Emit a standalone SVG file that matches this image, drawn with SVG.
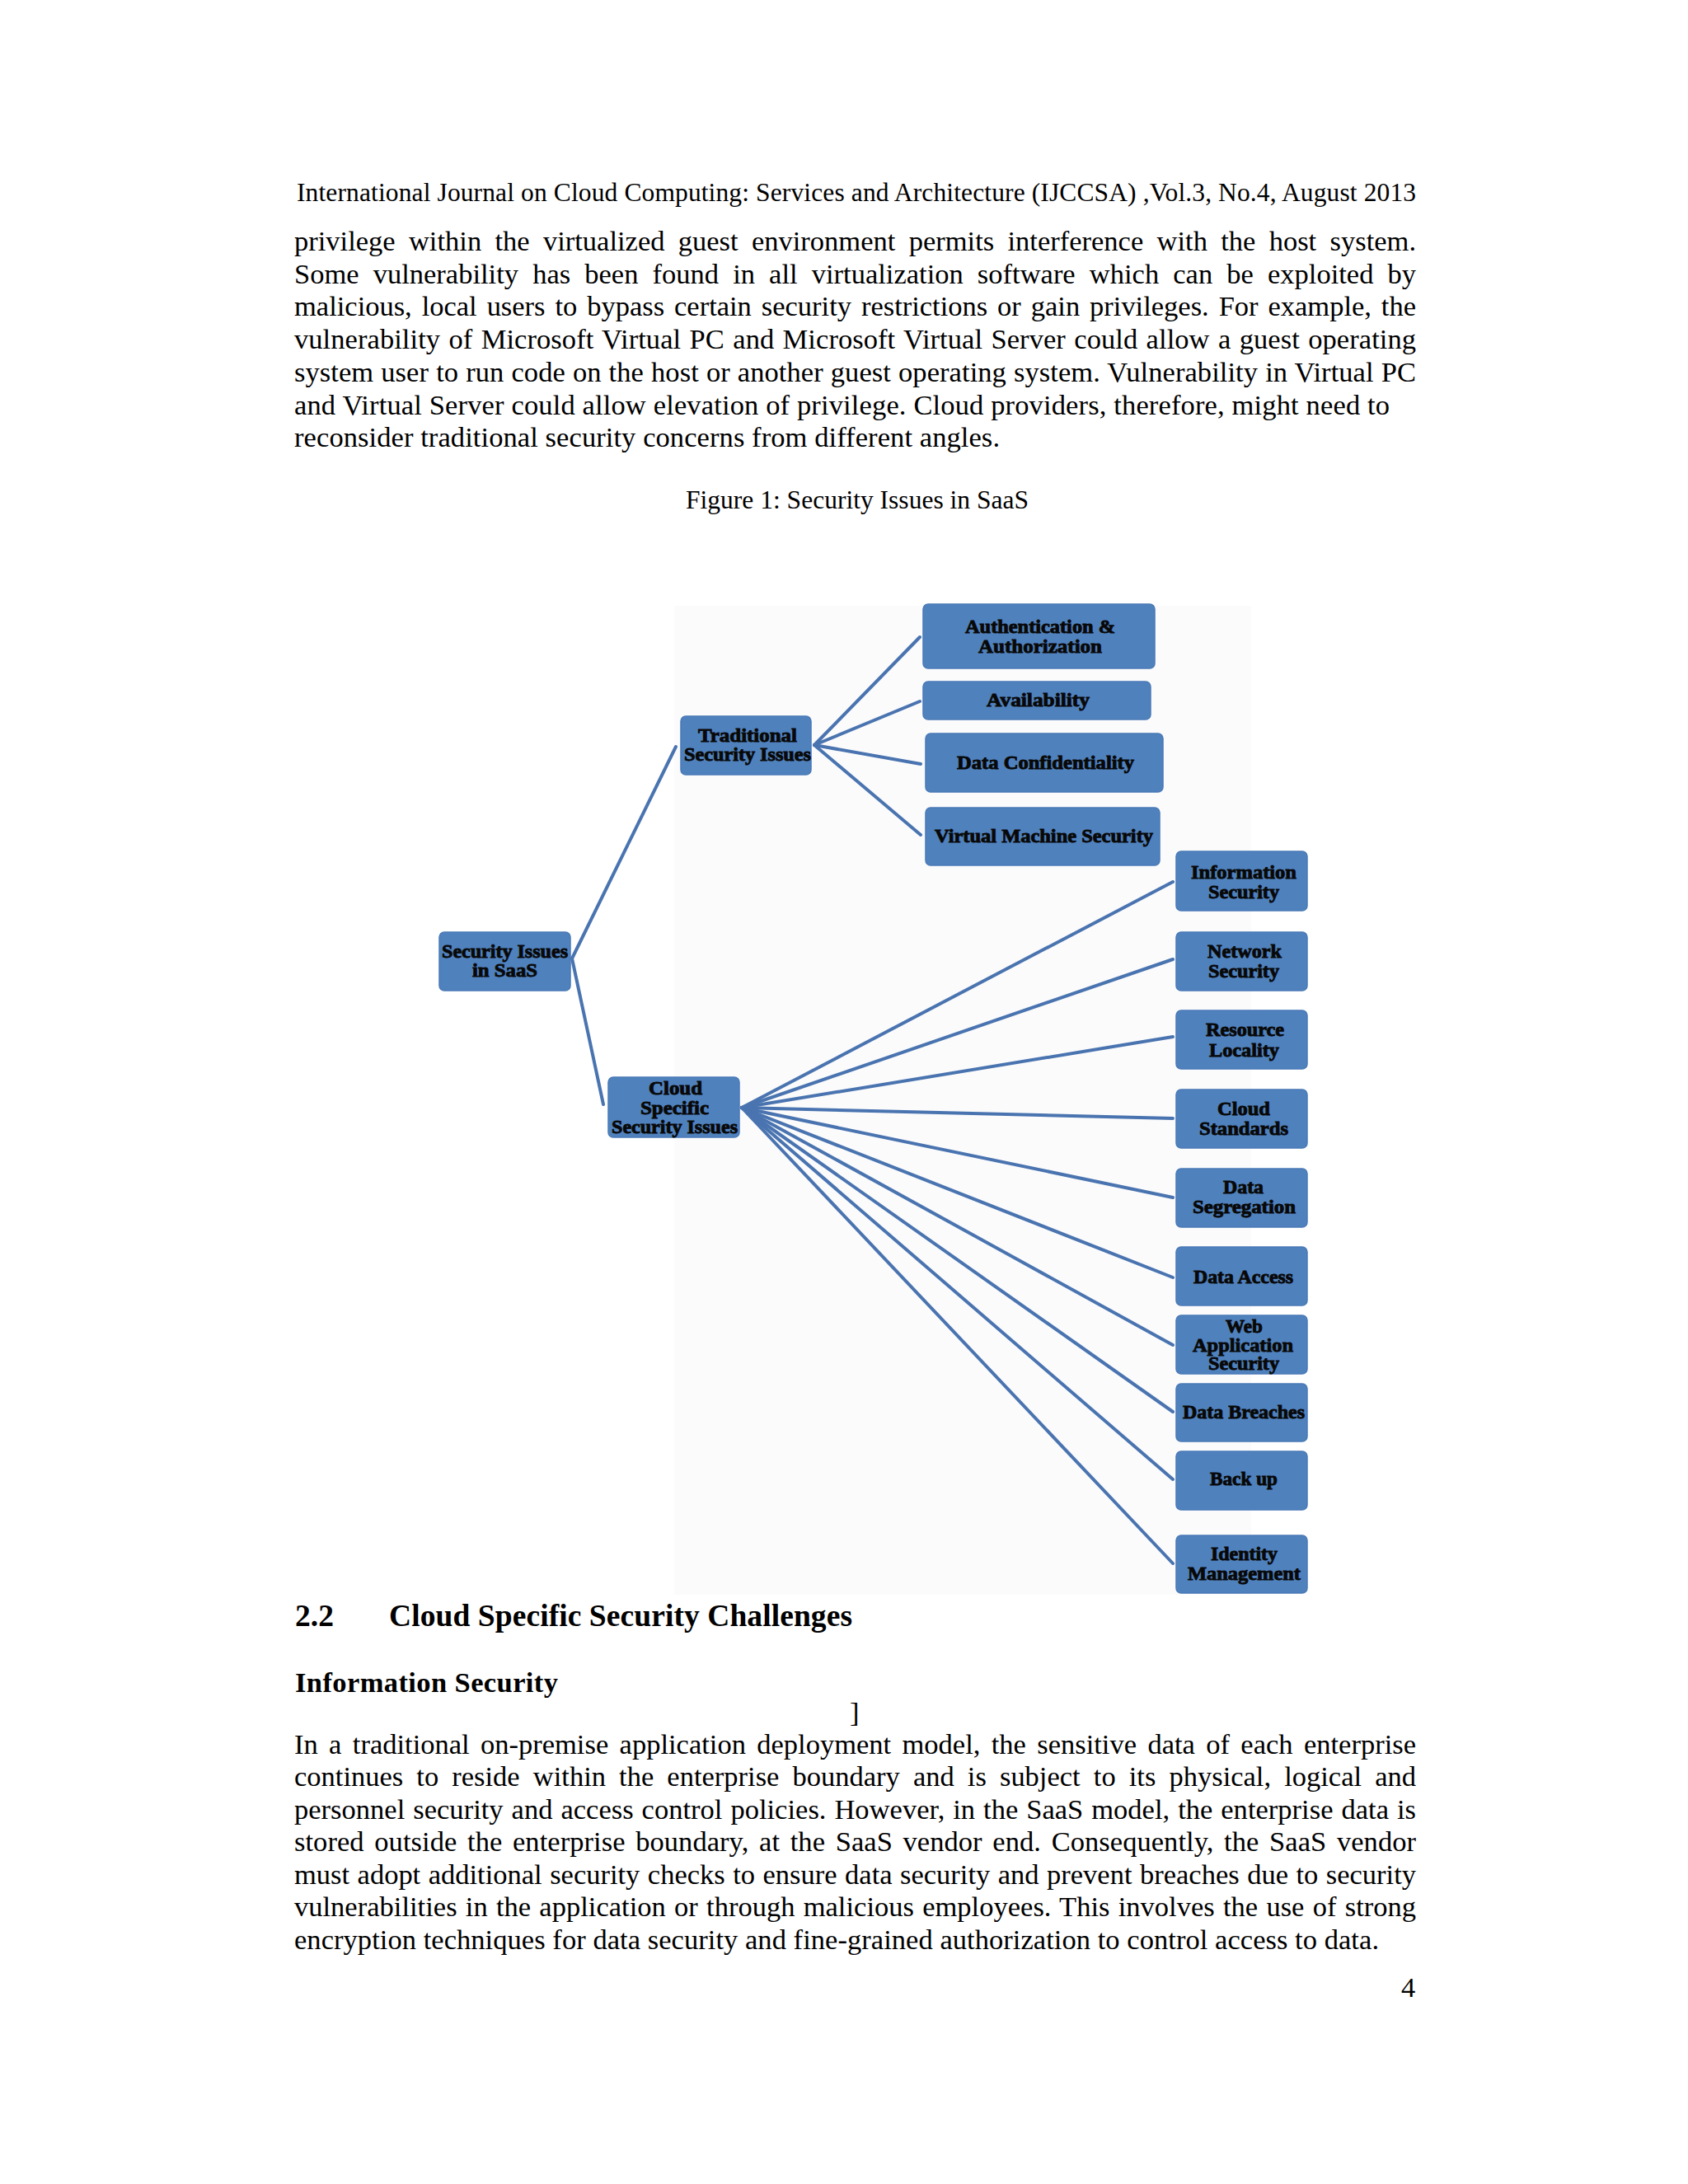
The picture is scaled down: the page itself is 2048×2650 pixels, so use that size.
<svg xmlns="http://www.w3.org/2000/svg" width="2048" height="2650" viewBox="0 0 2048 2650">
<style>
.pg{font-family:"Liberation Serif","Times New Roman",serif;fill:#000}
.hd{font-size:31.5px}
.bd{font-size:34.5px}
.cap{font-size:31.5px}
.h2{font-size:37.5px;font-weight:bold}
.h3{font-size:34.5px;font-weight:bold}
.box{fill:#4f81bd;stroke:#4a7ab6;stroke-width:1.5}
.lbl{font-family:"Liberation Serif","Times New Roman",serif;font-size:24px;font-weight:bold;fill:#080808;stroke:#080808;stroke-width:0.9}
.con{stroke:#4a74b0;stroke-width:4;fill:none;stroke-linecap:round}
</style>
<rect width="2048" height="2650" fill="#ffffff"/>
<g id="page-text" class="pg">
<text class="hd" x="360" y="244" textLength="1358" lengthAdjust="spacing">International Journal on Cloud Computing: Services and Architecture (IJCCSA) ,Vol.3, No.4, August 2013</text>
<text class="bd" x="357" y="304" word-spacing="7.7" textLength="1361" lengthAdjust="spacing">privilege within the virtualized guest environment permits interference with the host system.</text>
<text class="bd" x="357" y="344" word-spacing="8.5" textLength="1361" lengthAdjust="spacing">Some vulnerability has been found in all virtualization software which can be exploited by</text>
<text class="bd" x="357" y="383" word-spacing="3.3" textLength="1361" lengthAdjust="spacing">malicious, local users to bypass certain security restrictions or gain privileges. For example, the</text>
<text class="bd" x="357" y="423" word-spacing="1.7" textLength="1361" lengthAdjust="spacing">vulnerability of Microsoft Virtual PC and Microsoft Virtual Server could allow a guest operating</text>
<text class="bd" x="357" y="463" word-spacing="0.4" textLength="1361" lengthAdjust="spacing">system user to run code on the host or another guest operating system. Vulnerability in Virtual PC</text>
<text class="bd" x="357" y="503" textLength="1329" lengthAdjust="spacing">and Virtual Server could allow elevation of privilege. Cloud providers, therefore, might need to</text>
<text class="bd" x="357" y="542" textLength="856" lengthAdjust="spacing">reconsider traditional security concerns from different angles.</text>
<text class="cap" x="832" y="617" textLength="416" lengthAdjust="spacing">Figure 1: Security Issues in SaaS</text>
<text class="h2" x="358" y="1973">2.2</text>
<text class="h2" x="472" y="1973" textLength="562" lengthAdjust="spacing">Cloud Specific Security Challenges</text>
<text class="h3" x="358" y="2053" textLength="319" lengthAdjust="spacing">Information  Security</text>
<text class="bd" x="1031" y="2089">]</text>
<text class="bd" x="357" y="2128" word-spacing="4.75" textLength="1361" lengthAdjust="spacing">In a traditional on-premise application deployment model, the sensitive data of each enterprise</text>
<text class="bd" x="357" y="2167" word-spacing="7.5" textLength="1361" lengthAdjust="spacing">continues to reside within the enterprise boundary and is subject to its physical, logical and</text>
<text class="bd" x="357" y="2207" word-spacing="1.3" textLength="1361" lengthAdjust="spacing">personnel security and access control policies. However, in the SaaS model, the enterprise data is</text>
<text class="bd" x="357" y="2246" word-spacing="4" textLength="1361" lengthAdjust="spacing">stored outside the enterprise boundary, at the SaaS vendor end. Consequently, the SaaS vendor</text>
<text class="bd" x="357" y="2286" word-spacing="0.9" textLength="1361" lengthAdjust="spacing">must adopt additional security checks to ensure data security and prevent breaches due to security</text>
<text class="bd" x="357" y="2325" word-spacing="1.6" textLength="1361" lengthAdjust="spacing">vulnerabilities in the application or through malicious employees. This involves the use of strong</text>
<text class="bd" x="357" y="2365" textLength="1316" lengthAdjust="spacing">encryption techniques for data security and fine-grained authorization to control access to data.</text>
<text class="bd" x="1700" y="2423">4</text>
</g>
<rect x="818" y="735" width="700" height="1200" fill="#fbfbfc"/>
<g id="connectors">
<line class="con" x1="694" y1="1163" x2="820" y2="906"/>
<line class="con" x1="694" y1="1163" x2="732" y2="1340"/>
<line class="con" x1="988" y1="904" x2="1116" y2="773"/>
<line class="con" x1="988" y1="904" x2="1116" y2="851"/>
<line class="con" x1="988" y1="904" x2="1117" y2="927"/>
<line class="con" x1="988" y1="904" x2="1117" y2="1013"/>
<line class="con" x1="900" y1="1344" x2="1423" y2="1070"/>
<line class="con" x1="900" y1="1344" x2="1423" y2="1164"/>
<line class="con" x1="900" y1="1344" x2="1423" y2="1258"/>
<line class="con" x1="900" y1="1344" x2="1423" y2="1357"/>
<line class="con" x1="900" y1="1344" x2="1423" y2="1453"/>
<line class="con" x1="900" y1="1344" x2="1423" y2="1550"/>
<line class="con" x1="900" y1="1344" x2="1423" y2="1632"/>
<line class="con" x1="900" y1="1344" x2="1423" y2="1713"/>
<line class="con" x1="900" y1="1344" x2="1423" y2="1795"/>
<line class="con" x1="900" y1="1344" x2="1423" y2="1897"/>
</g>
<g id="node-root"><rect class="box" x="533" y="1131" width="159" height="71" rx="6"/>
<text class="lbl" x="536" y="1162" textLength="153" lengthAdjust="spacingAndGlyphs">Security Issues</text>
<text class="lbl" x="573" y="1185" textLength="79" lengthAdjust="spacingAndGlyphs">in SaaS</text></g>
<g id="node-traditional"><rect class="box" x="826" y="869" width="158" height="71" rx="6"/>
<text class="lbl" x="847" y="900" textLength="120" lengthAdjust="spacingAndGlyphs">Traditional</text>
<text class="lbl" x="830" y="923" textLength="154" lengthAdjust="spacingAndGlyphs">Security Issues</text></g>
<g id="node-cloud"><rect class="box" x="738" y="1307" width="159" height="73" rx="6"/>
<text class="lbl" x="787" y="1328" textLength="65" lengthAdjust="spacingAndGlyphs">Cloud</text>
<text class="lbl" x="777" y="1352" textLength="83" lengthAdjust="spacingAndGlyphs">Specific</text>
<text class="lbl" x="742" y="1375" textLength="153" lengthAdjust="spacingAndGlyphs">Security Issues</text></g>
<g id="node-auth"><rect class="box" x="1120" y="733" width="281" height="78" rx="6"/>
<text class="lbl" x="1171" y="768" textLength="182" lengthAdjust="spacingAndGlyphs">Authentication &amp;</text>
<text class="lbl" x="1187" y="792" textLength="150" lengthAdjust="spacingAndGlyphs">Authorization</text></g>
<g id="node-availability"><rect class="box" x="1120" y="827" width="276" height="46" rx="6"/>
<text class="lbl" x="1197" y="857" textLength="125" lengthAdjust="spacingAndGlyphs">Availability</text></g>
<g id="node-confidentiality"><rect class="box" x="1123" y="890" width="288" height="71" rx="6"/>
<text class="lbl" x="1161" y="933" textLength="215" lengthAdjust="spacingAndGlyphs">Data Confidentiality</text></g>
<g id="node-vm"><rect class="box" x="1123" y="980" width="284" height="70" rx="6"/>
<text class="lbl" x="1134" y="1022" textLength="265" lengthAdjust="spacingAndGlyphs">Virtual Machine Security</text></g>
<g id="node-information"><rect class="box" x="1427" y="1033" width="159" height="72" rx="6"/>
<text class="lbl" x="1445" y="1066" textLength="128" lengthAdjust="spacingAndGlyphs">Information</text>
<text class="lbl" x="1466" y="1090" textLength="86" lengthAdjust="spacingAndGlyphs">Security</text></g>
<g id="node-network"><rect class="box" x="1427" y="1131" width="159" height="71" rx="6"/>
<text class="lbl" x="1465" y="1162" textLength="90" lengthAdjust="spacingAndGlyphs">Network</text>
<text class="lbl" x="1466" y="1186" textLength="86" lengthAdjust="spacingAndGlyphs">Security</text></g>
<g id="node-resource"><rect class="box" x="1427" y="1226" width="159" height="71" rx="6"/>
<text class="lbl" x="1463" y="1257" textLength="95" lengthAdjust="spacingAndGlyphs">Resource</text>
<text class="lbl" x="1467" y="1282" textLength="85" lengthAdjust="spacingAndGlyphs">Locality</text></g>
<g id="node-standards"><rect class="box" x="1427" y="1322" width="159" height="71" rx="6"/>
<text class="lbl" x="1477" y="1353" textLength="64" lengthAdjust="spacingAndGlyphs">Cloud</text>
<text class="lbl" x="1455" y="1377" textLength="108" lengthAdjust="spacingAndGlyphs">Standards</text></g>
<g id="node-segregation"><rect class="box" x="1427" y="1418" width="159" height="71" rx="6"/>
<text class="lbl" x="1484" y="1448" textLength="49" lengthAdjust="spacingAndGlyphs">Data</text>
<text class="lbl" x="1447" y="1472" textLength="125" lengthAdjust="spacingAndGlyphs">Segregation</text></g>
<g id="node-access"><rect class="box" x="1427" y="1513" width="159" height="71" rx="6"/>
<text class="lbl" x="1448" y="1557" textLength="121" lengthAdjust="spacingAndGlyphs">Data Access</text></g>
<g id="node-webapp"><rect class="box" x="1427" y="1596" width="159" height="71" rx="6"/>
<text class="lbl" x="1487" y="1617" textLength="45" lengthAdjust="spacingAndGlyphs">Web</text>
<text class="lbl" x="1447" y="1640" textLength="122" lengthAdjust="spacingAndGlyphs">Application</text>
<text class="lbl" x="1466" y="1662" textLength="86" lengthAdjust="spacingAndGlyphs">Security</text></g>
<g id="node-breaches"><rect class="box" x="1427" y="1679" width="159" height="70" rx="6"/>
<text class="lbl" x="1435" y="1721" textLength="148" lengthAdjust="spacingAndGlyphs">Data Breaches</text></g>
<g id="node-backup"><rect class="box" x="1427" y="1761" width="159" height="71" rx="6"/>
<text class="lbl" x="1468" y="1802" textLength="82" lengthAdjust="spacingAndGlyphs">Back up</text></g>
<g id="node-identity"><rect class="box" x="1427" y="1863" width="159" height="70" rx="6"/>
<text class="lbl" x="1469" y="1893" textLength="81" lengthAdjust="spacingAndGlyphs">Identity</text>
<text class="lbl" x="1441" y="1917" textLength="137" lengthAdjust="spacingAndGlyphs">Management</text></g>
</svg>
